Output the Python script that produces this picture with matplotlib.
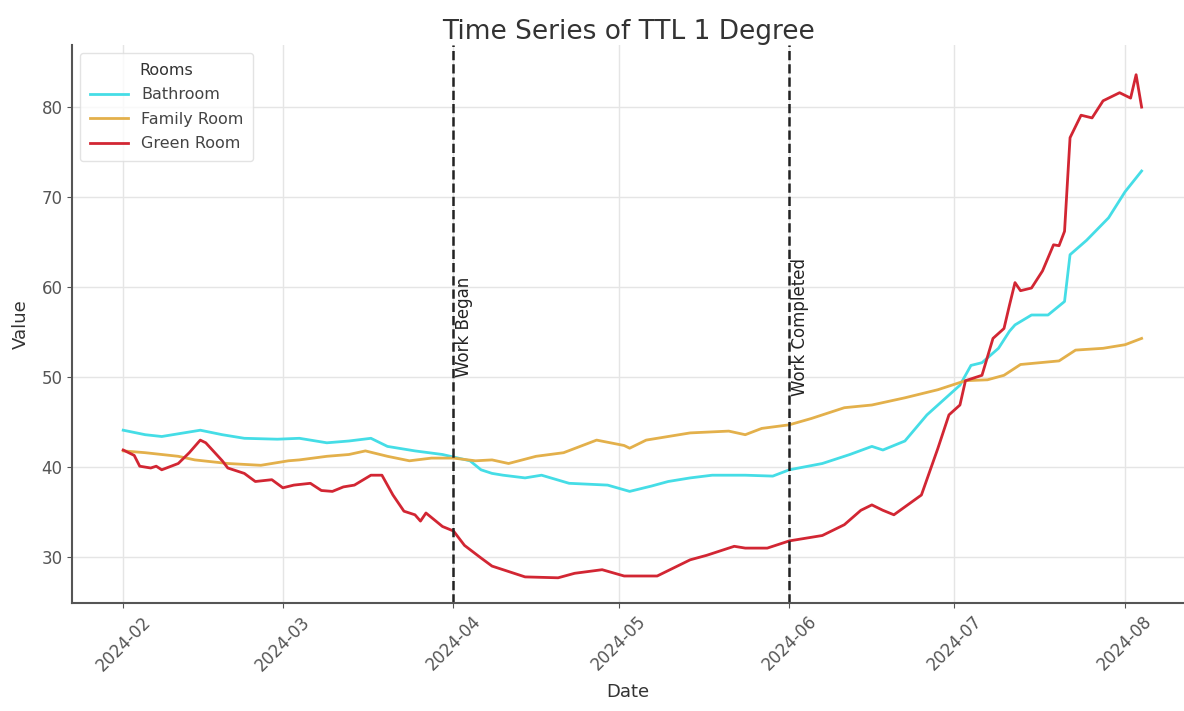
import numpy as np
import pandas as pd
import matplotlib
matplotlib.use('Agg')
import matplotlib.pyplot as plt
import matplotlib.dates as mdates

# ── Data (dates + values per room) ─────────────────────────────────────────
green_dates = ['2024-02-01', '2024-02-03', '2024-02-04', '2024-02-06', '2024-02-07', '2024-02-08',
               '2024-02-11', '2024-02-13', '2024-02-15', '2024-02-16', '2024-02-19', '2024-02-20',
               '2024-02-23', '2024-02-25', '2024-02-28', '2024-03-01', '2024-03-03', '2024-03-06',
               '2024-03-08', '2024-03-10', '2024-03-12', '2024-03-14', '2024-03-17', '2024-03-19',
               '2024-03-21', '2024-03-23', '2024-03-25', '2024-03-26', '2024-03-27', '2024-03-30',
               '2024-04-01', '2024-04-03', '2024-04-06', '2024-04-08', '2024-04-11', '2024-04-14',
               '2024-04-20', '2024-04-23', '2024-04-28', '2024-05-02', '2024-05-08', '2024-05-12',
               '2024-05-14', '2024-05-17', '2024-05-22', '2024-05-24', '2024-05-28', '2024-06-01',
               '2024-06-07', '2024-06-11', '2024-06-14', '2024-06-16', '2024-06-18', '2024-06-20',
               '2024-06-25', '2024-06-28', '2024-06-30', '2024-07-02', '2024-07-03', '2024-07-06',
               '2024-07-08', '2024-07-10', '2024-07-11', '2024-07-12', '2024-07-13', '2024-07-15',
               '2024-07-17', '2024-07-19', '2024-07-20', '2024-07-21', '2024-07-22', '2024-07-24',
               '2024-07-26', '2024-07-28', '2024-07-31', '2024-08-02', '2024-08-03', '2024-08-04']
green_room = [41.9, 41.3, 40.1, 39.9, 40.1, 39.7,
              40.4, 41.6, 43.0, 42.7, 40.7, 39.9,
              39.3, 38.4, 38.6, 37.7, 38.0, 38.2,
              37.4, 37.3, 37.8, 38.0, 39.1, 39.1,
              36.9, 35.1, 34.7, 34.0, 34.9, 33.4,
              32.9, 31.3, 29.9, 29.0, 28.4, 27.8,
              27.7, 28.2, 28.6, 27.9, 27.9, 29.1,
              29.7, 30.2, 31.2, 31.0, 31.0, 31.8,
              32.4, 33.6, 35.2, 35.8, 35.2, 34.7,
              36.9, 42.1, 45.8, 46.9, 49.6, 50.2,
              54.3, 55.4, 58.0, 60.5, 59.6, 59.9,
              61.8, 64.7, 64.6, 66.2, 76.6, 79.1,
              78.8, 80.7, 81.6, 81.0, 83.6, 80.0]

bath_dates = ['2024-02-01', '2024-02-05', '2024-02-08', '2024-02-12', '2024-02-15', '2024-02-19',
              '2024-02-23', '2024-02-29', '2024-03-04', '2024-03-09', '2024-03-13', '2024-03-17',
              '2024-03-20', '2024-03-25', '2024-03-30', '2024-04-04', '2024-04-06', '2024-04-08',
              '2024-04-10', '2024-04-14', '2024-04-17', '2024-04-22', '2024-04-29', '2024-05-03',
              '2024-05-07', '2024-05-10', '2024-05-14', '2024-05-18', '2024-05-24', '2024-05-29',
              '2024-06-01', '2024-06-07', '2024-06-12', '2024-06-16', '2024-06-18', '2024-06-22',
              '2024-06-26', '2024-06-30', '2024-07-02', '2024-07-04', '2024-07-06', '2024-07-09',
              '2024-07-11', '2024-07-12', '2024-07-15', '2024-07-18', '2024-07-21', '2024-07-22',
              '2024-07-25', '2024-07-29', '2024-08-01', '2024-08-04']
bathroom = [44.1, 43.6, 43.4, 43.8, 44.1, 43.6,
            43.2, 43.1, 43.2, 42.7, 42.9, 43.2,
            42.3, 41.8, 41.4, 40.7, 39.7, 39.3,
            39.1, 38.8, 39.1, 38.2, 38.0, 37.3,
            37.9, 38.4, 38.8, 39.1, 39.1, 39.0,
            39.7, 40.4, 41.4, 42.3, 41.9, 42.9,
            45.8, 48.0, 49.1, 51.3, 51.6, 53.2,
            55.1, 55.8, 56.9, 56.9, 58.4, 63.6,
            65.2, 67.7, 70.6, 72.9]

family_dates = ['2024-02-01', '2024-02-05', '2024-02-11', '2024-02-14', '2024-02-20', '2024-02-26',
                '2024-03-02', '2024-03-04', '2024-03-09', '2024-03-13', '2024-03-16', '2024-03-20',
                '2024-03-24', '2024-03-28', '2024-04-01', '2024-04-05', '2024-04-08', '2024-04-11',
                '2024-04-16', '2024-04-21', '2024-04-27', '2024-05-02', '2024-05-03', '2024-05-06',
                '2024-05-10', '2024-05-14', '2024-05-21', '2024-05-24', '2024-05-27', '2024-06-01',
                '2024-06-05', '2024-06-11', '2024-06-16', '2024-06-22', '2024-06-28', '2024-07-03',
                '2024-07-07', '2024-07-10', '2024-07-13', '2024-07-20', '2024-07-23', '2024-07-28',
                '2024-08-01', '2024-08-04']
family_room = [41.8, 41.6, 41.2, 40.8, 40.4, 40.2,
               40.7, 40.8, 41.2, 41.4, 41.8, 41.2,
               40.7, 41.0, 41.0, 40.7, 40.8, 40.4,
               41.2, 41.6, 43.0, 42.4, 42.1, 43.0,
               43.4, 43.8, 44.0, 43.6, 44.3, 44.7,
               45.4, 46.6, 46.9, 47.7, 48.6, 49.6,
               49.7, 50.2, 51.4, 51.8, 53.0, 53.2,
               53.6, 54.3]

events = ['2024-04-01', '2024-06-01']
event_labels = ['Work Began', 'Work Completed']

plt.rcParams.update({
    'font.family': 'DejaVu Sans',
    'axes.edgecolor': '#555555',
    'text.color': '#333333',
    'axes.labelcolor': '#333333',
    'xtick.color': '#555555',
    'ytick.color': '#555555',
})

fig = plt.figure(figsize=(11.84, 7.11), dpi=100)
ax = fig.add_axes([0.061, 0.1519, 0.939, 0.7848])

ax.plot(pd.to_datetime(bath_dates), bathroom, color='#45DDE6', linewidth=2, label='Bathroom')
ax.plot(pd.to_datetime(family_dates), family_room, color='#E3B04B', linewidth=2, label='Family Room')
ax.plot(pd.to_datetime(green_dates), green_room, color='#D22633', linewidth=2, label='Green Room')

for d, lab in zip(events, event_labels):
    ax.axvline(pd.Timestamp(d), color='#222222', linestyle='--', linewidth=1.8)
    ax.text(pd.Timestamp(d) + pd.Timedelta(days=0.3), 55.6, lab, rotation=90, ha='left', va='center',
            fontsize=12, color='#222222')

ax.set_xlim(pd.Timestamp('2024-02-01') - pd.Timedelta(days=9.26),
            pd.Timestamp('2024-02-01') + pd.Timedelta(days=192.7))
ax.set_ylim(24.9, 86.9)
ax.xaxis.set_major_locator(mdates.MonthLocator())
ax.xaxis.set_major_formatter(mdates.DateFormatter('%Y-%m'))
ax.set_yticks([30, 40, 50, 60, 70, 80])
plt.setp(ax.get_xticklabels(), rotation=45)
ax.tick_params(axis='x', labelsize=12)
ax.tick_params(axis='y', labelsize=12)

ax.grid(True, color='#E5E5E5', linewidth=1)
ax.set_axisbelow(True)
for s in ['top', 'right']:
    ax.spines[s].set_visible(False)
ax.spines['left'].set_linewidth(1.5)
ax.spines['bottom'].set_linewidth(1.5)

ax.set_title('Time Series of TTL 1 Degree', fontsize=19, pad=4)
ax.set_xlabel('Date', fontsize=13, labelpad=6)
ax.set_ylabel('Value', fontsize=13, labelpad=8)
leg = ax.legend(title='Rooms', loc='upper left', fontsize=11.5, title_fontsize=11.5,
                frameon=True, edgecolor='#DDDDDD', handlelength=2.4, labelspacing=0.6,
                borderpad=0.6)
for t in leg.get_texts():
    t.set_color('#444444')

fig.savefig('out.png', dpi=100)
